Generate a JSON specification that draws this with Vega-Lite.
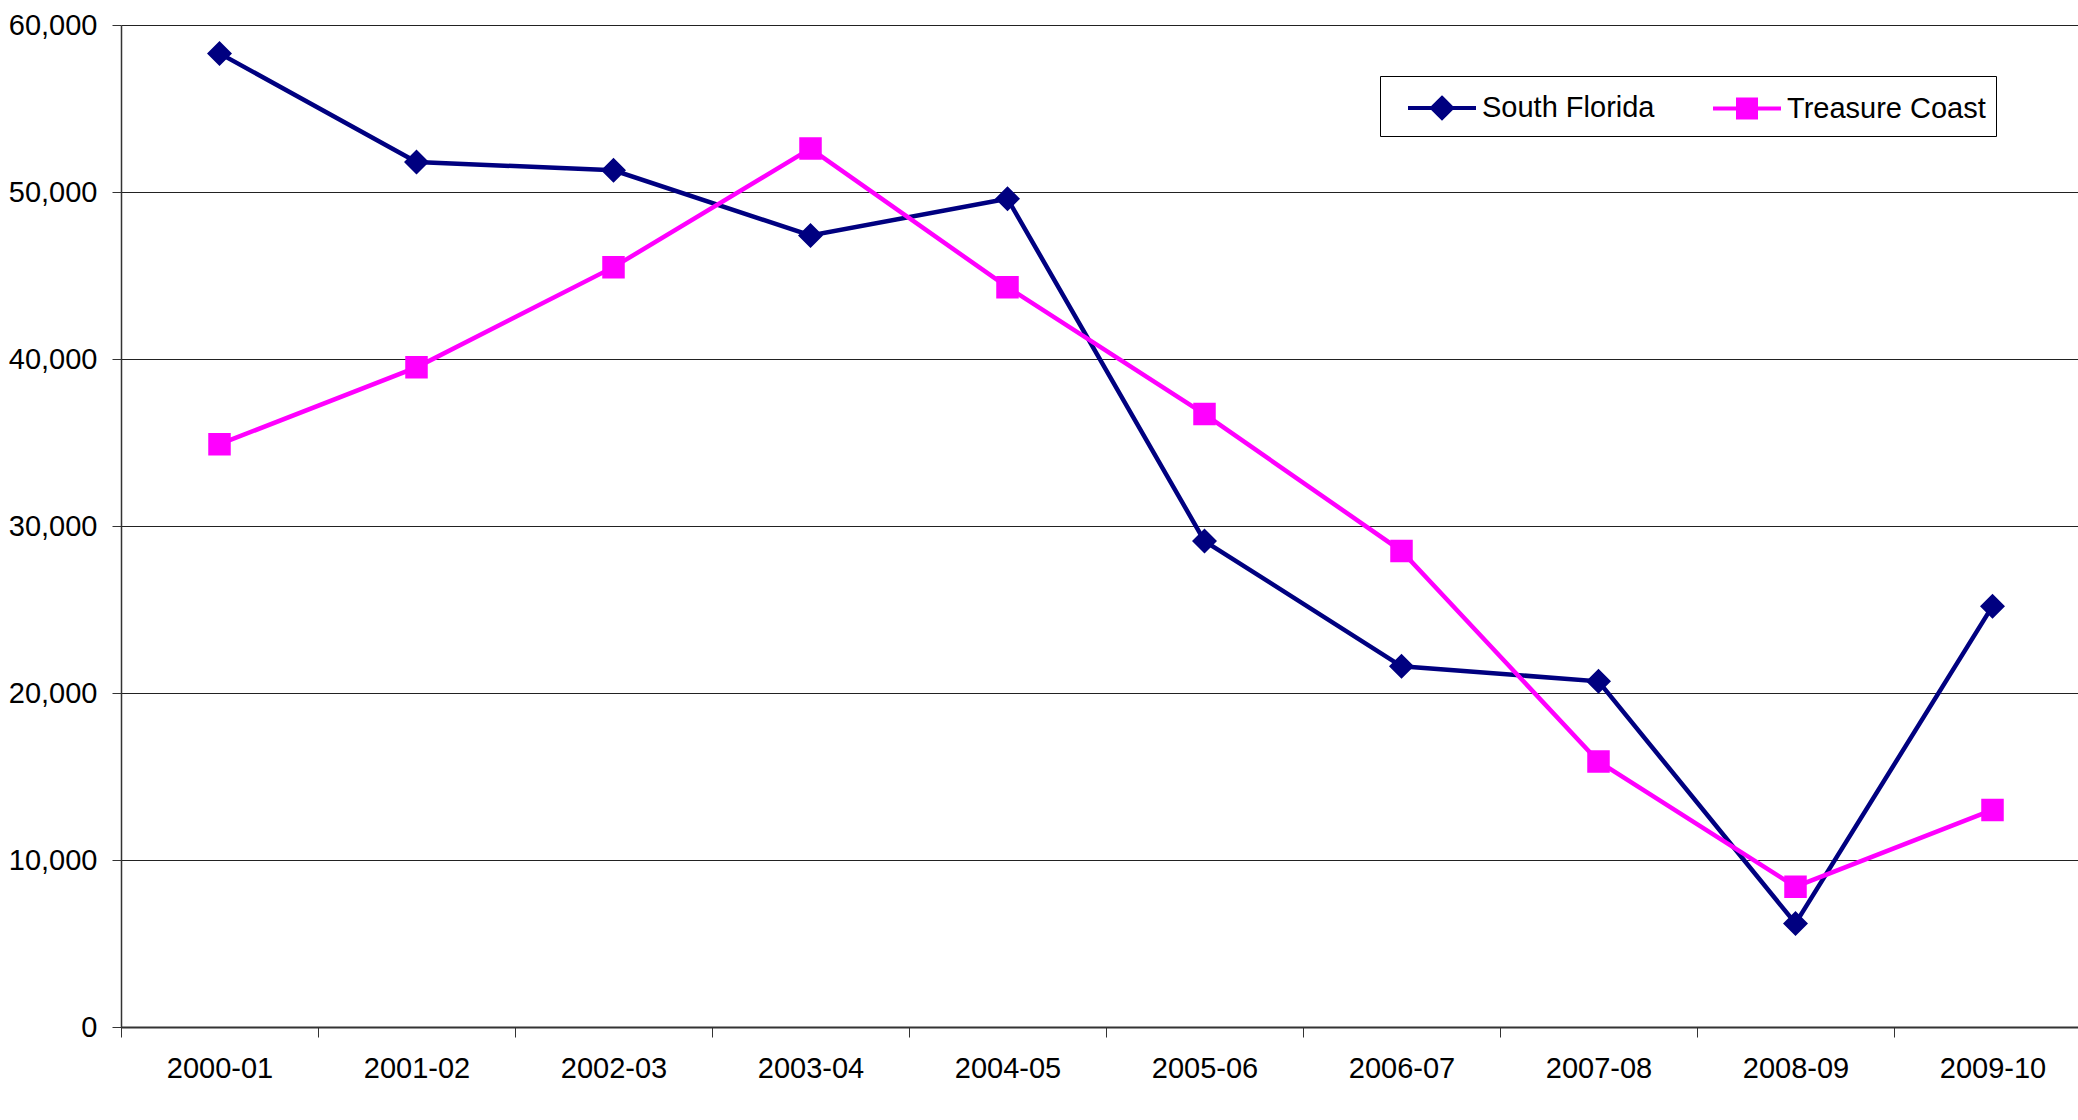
{
  "$schema": "https://vega.github.io/schema/vega-lite/v6.json",
  "width": 1957,
  "height": 1002,
  "autosize": {"type": "none"},
  "padding": {"left": 121, "top": 25, "right": 0, "bottom": 93},
  "background": "white",
  "config": {"view": {"stroke": null}, "font": "Liberation Sans"},
  "data": {
    "values": [
      {"year": "2000-01", "series": "South Florida", "value": 58300},
      {"year": "2001-02", "series": "South Florida", "value": 51800},
      {"year": "2002-03", "series": "South Florida", "value": 51300},
      {"year": "2003-04", "series": "South Florida", "value": 47400},
      {"year": "2004-05", "series": "South Florida", "value": 49600},
      {"year": "2005-06", "series": "South Florida", "value": 29100},
      {"year": "2006-07", "series": "South Florida", "value": 21600},
      {"year": "2007-08", "series": "South Florida", "value": 20700},
      {"year": "2008-09", "series": "South Florida", "value": 6200},
      {"year": "2009-10", "series": "South Florida", "value": 25200},
      {"year": "2000-01", "series": "Treasure Coast", "value": 34900},
      {"year": "2001-02", "series": "Treasure Coast", "value": 39500},
      {"year": "2002-03", "series": "Treasure Coast", "value": 45500},
      {"year": "2003-04", "series": "Treasure Coast", "value": 52600},
      {"year": "2004-05", "series": "Treasure Coast", "value": 44300},
      {"year": "2005-06", "series": "Treasure Coast", "value": 36700},
      {"year": "2006-07", "series": "Treasure Coast", "value": 28500},
      {"year": "2007-08", "series": "Treasure Coast", "value": 15900},
      {"year": "2008-09", "series": "Treasure Coast", "value": 8400},
      {"year": "2009-10", "series": "Treasure Coast", "value": 13000}
    ]
  },
  "encoding": {
    "x": {
      "field": "year",
      "type": "ordinal",
      "scale": {"type": "band", "paddingInner": 0, "paddingOuter": 0, "range": [0, 1970]},
      "axis": {
        "title": null,
        "labelAngle": 0,
        "tickBand": "extent",
        "tickSize": 10,
        "tickColor": "#333333",
        "domainColor": "#333333",
        "domainWidth": 2,
        "labelFontSize": 29,
        "labelFont": "Liberation Sans",
        "labelColor": "black",
        "labelPadding": 17,
        "grid": false
      }
    },
    "y": {
      "field": "value",
      "type": "quantitative",
      "scale": {"domain": [0, 60000], "nice": false},
      "axis": {
        "title": null,
        "values": [0, 10000, 20000, 30000, 40000, 50000, 60000],
        "format": ",.0f",
        "tickSize": 9,
        "tickColor": "#333333",
        "domainColor": "#333333",
        "domainWidth": 1.5,
        "labelFontSize": 29,
        "labelFont": "Liberation Sans",
        "labelColor": "black",
        "labelPadding": 15,
        "grid": true,
        "gridColor": "#222222",
        "gridWidth": 1
      }
    },
    "color": {
      "field": "series",
      "type": "nominal",
      "scale": {"domain": ["South Florida", "Treasure Coast"], "range": ["#000080", "#FF00FF"]},
      "legend": {
        "title": null,
        "orient": "none",
        "legendX": 1259,
        "legendY": 51,
        "direction": "horizontal",
        "strokeColor": "black",
        "fillColor": "white",
        "padding": 10,
        "labelFont": "Liberation Sans",
        "labelFontSize": 29,
        "labelColor": "black",
        "labelOffset": 18,
        "labelLimit": 400,
        "columnPadding": 40,
        "symbolSize": 1600,
        "symbolStrokeWidth": 4,
        "symbolOffset": 30,
        "symbolOpacity": 1
      }
    }
  },
  "layer": [
    {
      "mark": {"type": "line", "strokeWidth": 4.5}
    },
    {
      "mark": {"type": "point", "filled": true, "opacity": 1, "size": 2500},
      "encoding": {
        "shape": {
          "field": "series",
          "type": "nominal",
          "scale": {
            "domain": ["South Florida", "Treasure Coast"],
            "range": ["M-1.7,0H1.7M0,-0.5L0.5,0L0,0.5L-0.5,0Z", "M-1.7,0H1.7M-0.45,-0.45H0.45V0.45H-0.45Z"]
          },
          "legend": null
        }
      }
    }
  ]
}
